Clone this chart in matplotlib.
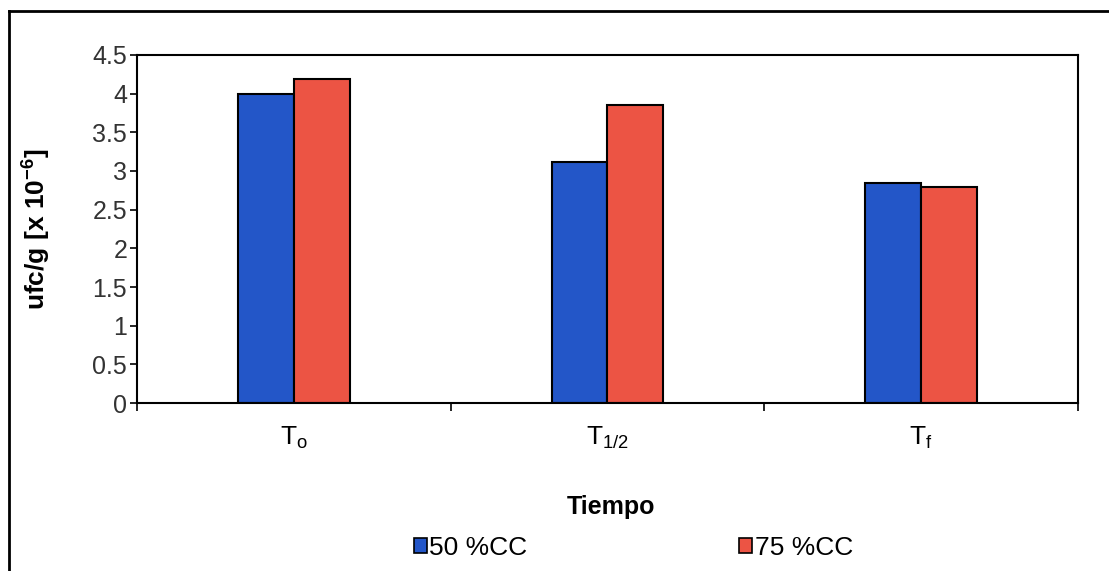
import matplotlib.pyplot as plt
from matplotlib.lines import Line2D
import numpy as np

plt.rcParams['font.family'] = ['Liberation Sans', 'DejaVu Sans']
plt.rcParams['mathtext.fontset'] = 'custom'
plt.rcParams['mathtext.rm'] = 'Liberation Sans'
plt.rcParams['mathtext.it'] = 'Liberation Sans'

# datos
tiempos = [r'$\mathregular{T_o}$', r'$\mathregular{T_{1/2}}$', r'$\mathregular{T_f}$']
cc50 = [3.99, 3.12, 2.85]
cc75 = [4.19, 3.85, 2.79]
series = ['50 %CC', '75 %CC']
yticks = [0, 0.5, 1, 1.5, 2, 2.5, 3, 3.5, 4, 4.5]
ytick_labels = ['0', '0.5', '1', '1.5', '2', '2.5', '3', '3.5', '4', '4.5']

azul = '#2356c8'
rojo = '#ec5444'

fig = plt.figure(figsize=(11.09, 5.71), dpi=100)
ax = fig.add_axes([0.1235, 0.2942, 0.972 - 0.1235, 0.9037 - 0.2942])

x = np.arange(len(tiempos))
w = 0.178
ax.bar(x - w / 2, cc50, w, color=azul, edgecolor='black', linewidth=1.5, label=series[0])
ax.bar(x + w / 2, cc75, w, color=rojo, edgecolor='black', linewidth=1.5, label=series[1])

ax.set_xlim(-0.5, 2.5)
ax.set_ylim(0, 4.5)
ax.set_yticks(yticks)
ax.set_yticklabels(ytick_labels, fontsize=18, color='#333333')
ax.tick_params(axis='y', direction='out', length=5, width=1.2, pad=2)

ax.set_xticks([-0.5, 0.5, 1.5, 2.5])
ax.set_xticklabels([])
ax.tick_params(axis='x', which='major', direction='out', length=6, width=1.2)
ax.set_xticks(x, minor=True)
ax.set_xticklabels(tiempos, minor=True, fontsize=19)
ax.tick_params(axis='x', which='minor', length=0, pad=16)

for s in ax.spines.values():
    s.set_linewidth(1.5)

ax.set_ylabel(r'ufc/g [x 10$^{\mathregular{-6}}$]', fontsize=19, fontweight='bold')
ax.yaxis.set_label_coords(-0.089, 0.5)
fig.text(611 / 1109, 1 - 507 / 571, 'Tiempo', fontsize=18, fontweight='bold',
         ha='center', va='center')

fig.legend(loc='center', bbox_to_anchor=(0.571, 0.04), ncol=2, frameon=False,
           fontsize=19, handlelength=0.5, handleheight=0.5, handletextpad=0.1,
           columnspacing=8.0)
for p in fig.legends[0].get_patches():
    p.set_linewidth(1.2)

# marco exterior
fig.add_artist(Line2D([0.0081, 0.0081], [0.0, 0.9807], transform=fig.transFigure, color='black', lw=2))
fig.add_artist(Line2D([0.0081, 1.0], [0.9807, 0.9807], transform=fig.transFigure, color='black', lw=2))

fig.savefig('out.png', dpi=100)
